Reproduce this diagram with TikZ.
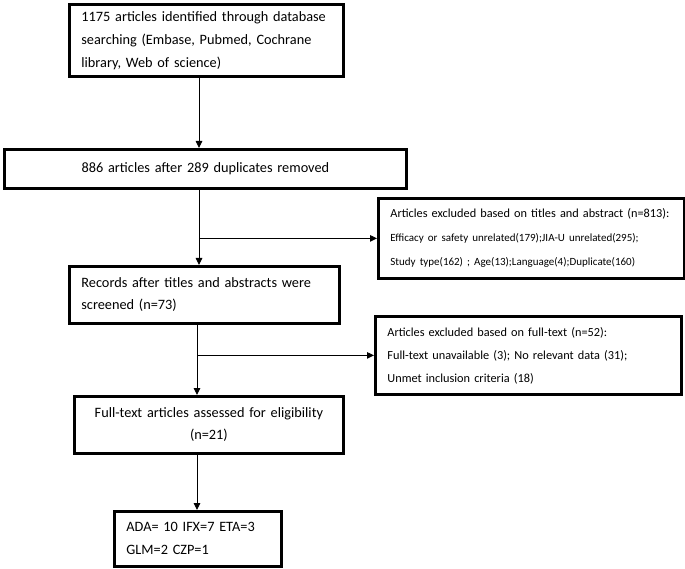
\documentclass[tikz,border=0pt]{standalone}
\usepackage{fontspec}
\setmainfont{Carlito}
\usetikzlibrary{arrows.meta}
\begin{document}
\begin{tikzpicture}[x=1pt,y=-1pt,
  box/.style={draw=black,line width=2.8pt,inner xsep=12pt,inner ysep=0pt,anchor=north west,font=\fontsize{14.3}{23}\selectfont},
  smallbox/.style={box,font=\fontsize{12.3}{24}\selectfont},
  arr/.style={line width=0.9pt,-{Triangle[length=7pt,width=6.5pt]}}]
\useasboundingbox (0,0) rectangle (685,569);
\node[box,text width=250pt,minimum height=72pt,align=left] (b1) at (68,3)
  {1175 articles identified through database\\searching (Embase, Pubmed, Cochrane\\library, Web of science)};
\node[box,text width=378pt,minimum height=39pt,align=center] (b2) at (3,148)
  {886 articles after 289 duplicates removed};
\node[smallbox,text width=282pt,minimum height=80pt,align=left] (b3) at (377,197)
  {\mbox{Articles excluded based on titles and abstract (n=813):}\\
   \mbox{\fontsize{11}{24}\selectfont Efficacy or safety unrelated(179);JIA-U unrelated(295);}\\
   \mbox{\fontsize{11}{24}\selectfont Study type(162) ; Age(13);Language(4);Duplicate(160)}};
\node[box,text width=246pt,minimum height=57pt,align=left,font=\fontsize{14.3}{22}\selectfont] (b4) at (68,265)
  {Records after titles and abstracts were\\screened (n=73)};
\node[smallbox,text width=282pt,minimum height=78pt,align=left,font=\fontsize{12.3}{23}\selectfont] (b5) at (374,315)
  {\mbox{Articles excluded based on full-text (n=52):}\\\mbox{Full-text unavailable (3); No relevant data (31);}\\\mbox{Unmet inclusion criteria (18)}};
\node[box,text width=245pt,minimum height=57pt,align=center,font=\fontsize{14.3}{22}\selectfont] (b6) at (73,395)
  {Full-text articles assessed for eligibility\\(n=21)};
\node[box,text width=143pt,minimum height=55pt,align=left] (b7) at (113,510)
  {ADA= 10 IFX=7 ETA=3\\GLM=2 CZP=1};
\coordinate (c1) at (199,0);
\coordinate (c2) at (197,0);
\draw[arr] (b1.south -| c1) -- (b2.north -| c1);
\draw[arr] (b2.south -| c1) -- (b4.north -| c1);
\draw[arr] (c1 |- b3.west) -- (b3.west);
\draw[arr] (b4.south -| c2) -- (b6.north -| c2);
\draw[arr] (c2 |- b5.west) -- (b5.west);
\draw[arr] (b6.south -| c2) -- (b7.north -| c2);
\end{tikzpicture}
\end{document}
